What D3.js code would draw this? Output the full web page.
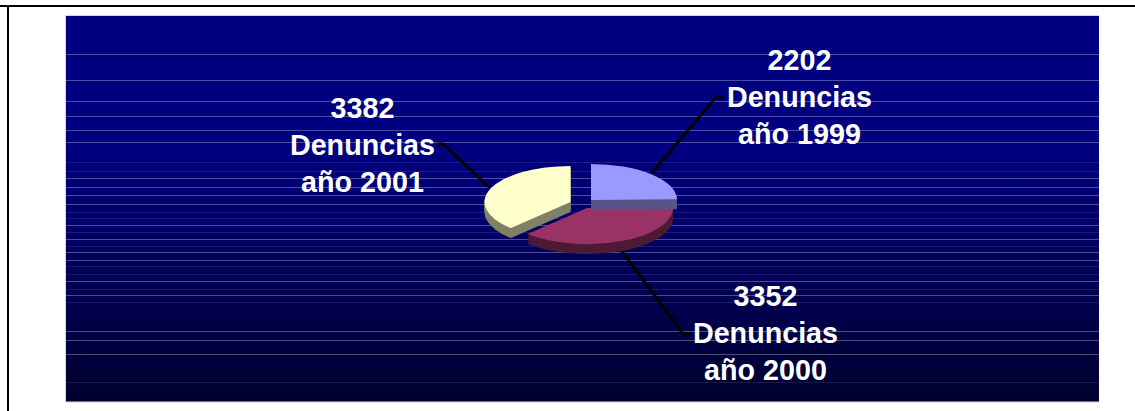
<!DOCTYPE html>
<html>
<head>
<meta charset="utf-8">
<script src="https://d3js.org/d3.v7.min.js"></script>
<style>
  html, body { margin: 0; padding: 0; background: #fff; overflow: hidden; }
  svg { display: block; }
  text { font-family: "Liberation Sans", Arial, sans-serif; font-weight: bold; font-size: 28.7px; fill: #fff; text-anchor: middle; }
</style>
</head>
<body>
<svg id="chart" width="1135" height="411"></svg>
<script>
// data
var years = ["1999", "2000", "2001"]
var denuncias = [2202, 3352, 3382]
var word = "Denuncias"
var prefix = "año "

var topColors = ["#9999ff", "#993366", "#ffffcc"]
var sideColors = ["#555589", "#4d1a33", "#808066"]

// layout, separate from the values
var plot = {x: 66, y: 16, w: 1033, h: 386}
var brightLines = [54, 80, 101, 116, 130, 142, 178, 187, 195, 204, 225, 239, 252, 260, 281, 295, 331, 340, 354]
var faintLines = [162, 171, 212, 218, 232, 246, 266, 274, 289, 302, 382]
var centers = [[591, 200], [587, 208], [570.5, 202]]
var radiusX = 86
var squash = 0.42 //pie tilt
var depth = 10
var drawOrder = [2, 1, 0] //the 1999 wall sits on top of the 2000 slice
var labelPos = [[799.5, 70], [765.5, 306], [362.5, 118]]
var leaders = [
  [[652, 173], [715, 98], [723, 98]],
  [[621, 250], [683, 334], [690, 334]],
  [[490, 188], [443, 144], [438, 144]]
]
var lineHeight = 37

var svg = d3.select("#chart")

// outer frame, only top and left show
svg.append("rect").attr("x", 0).attr("y", 5).attr("width", 1135).attr("height", 2).attr("fill", "#000")
svg.append("rect").attr("x", 7).attr("y", 5).attr("width", 2).attr("height", 406).attr("fill", "#000")

var defs = svg.append("defs")
var grad = defs.append("linearGradient").attr("id", "bg").attr("x1", 0).attr("y1", 0).attr("x2", 0).attr("y2", 1)
grad.append("stop").attr("offset", "0%").attr("stop-color", "#000080")
grad.append("stop").attr("offset", "35%").attr("stop-color", "#000080")
grad.append("stop").attr("offset", "100%").attr("stop-color", "#00002e")

svg.append("rect")
  .attr("x", plot.x).attr("y", plot.y).attr("width", plot.w).attr("height", plot.h)
  .attr("fill", "url(#bg)")

// thin light edge round the plot
svg.append("path")
  .attr("d", d3.line()([[plot.x + plot.w, plot.y - 0.5], [plot.x - 0.5, plot.y - 0.5], [plot.x - 0.5, plot.y + plot.h], [plot.x + plot.w, plot.y + plot.h]]))
  .attr("fill", "none").attr("stroke", "#d4d4ea").attr("stroke-width", 1)

// stripes
function stripes(list, opacity) {
  svg.selectAll(null).data(list).enter().append("rect")
    .attr("x", plot.x).attr("y", function(d) { return d })
    .attr("width", plot.w).attr("height", 1)
    .attr("fill", "#fff").attr("opacity", opacity)
}
stripes(brightLines, 0.3)
stripes(faintLines, 0.1)

// leader lines
svg.selectAll(null).data(leaders).enter().append("path")
  .attr("d", d3.line())
  .attr("fill", "none").attr("stroke", "#000").attr("stroke-width", 3)

// pie
var pie = d3.pie().sort(null).startAngle(0).endAngle(2 * Math.PI)
var slices = pie(denuncias)
var arc = d3.arc().innerRadius(0).outerRadius(radiusX)

drawOrder.forEach(function(i) {
  var g = svg.append("g")
  // wall: same wedge stacked downwards
  g.selectAll(null).data(d3.range(1, depth + 1)).enter().append("path")
    .attr("d", arc(slices[i]))
    .attr("fill", sideColors[i])
    .attr("transform", function(d) {
      return "translate(" + centers[i][0] + "," + (centers[i][1] + d) + ") scale(1," + squash + ")"
    })
  g.append("path")
    .attr("d", arc(slices[i]))
    .attr("fill", topColors[i])
    .attr("transform", "translate(" + centers[i][0] + "," + centers[i][1] + ") scale(1," + squash + ")")
})

// labels
denuncias.forEach(function(v, i) {
  var t = svg.append("text")
  var rows = [String(v), word, prefix + years[i]]
  rows.forEach(function(r, j) {
    t.append("tspan")
      .attr("x", labelPos[i][0])
      .attr("y", labelPos[i][1] + j * lineHeight)
      .text(r)
  })
})
</script>
</body>
</html>
